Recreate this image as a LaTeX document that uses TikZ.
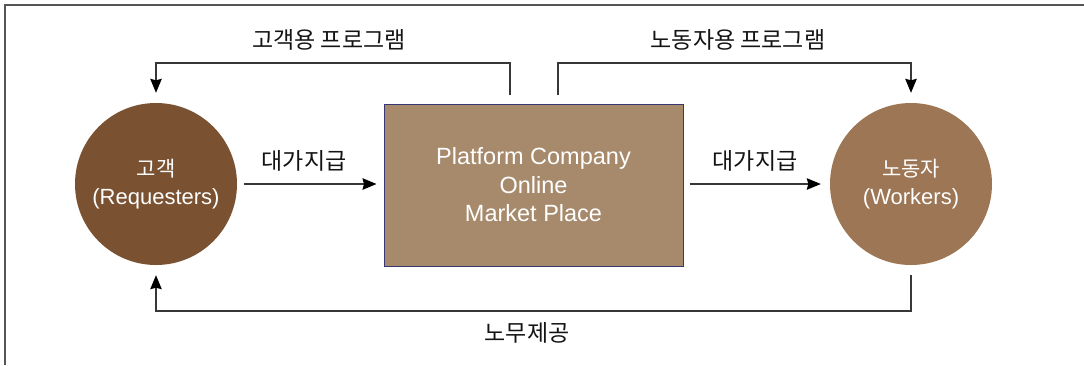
\documentclass[tikz,border=0pt]{standalone}
\usepackage{fontspec}
\setmainfont{Liberation Sans}
\newfontfamily\krf{Noto Sans CJK KR}
\usetikzlibrary{arrows.meta}
\definecolor{reqc}{RGB}{122,81,49}
\definecolor{wrkc}{RGB}{156,118,85}
\definecolor{platc}{RGB}{167,138,108}
\definecolor{platb}{RGB}{55,55,115}
\definecolor{linec}{RGB}{55,55,55}
\definecolor{framec}{RGB}{85,85,85}
\definecolor{txtc}{RGB}{20,20,20}
\tikzset{
  circ/.style={circle, inner sep=0pt, minimum size=162pt, text=white, align=center,
    font=\fontsize{22}{28}\selectfont},
  platbox/.style={rectangle, draw=platb, line width=1pt, fill=platc, inner sep=0pt,
    minimum width=299pt, minimum height=162pt, text=white, align=center,
    font=\fontsize{23.5}{28.5}\selectfont},
  conn/.style={draw=linec, line width=1.3pt, -{Stealth[length=14pt,width=11.5pt,inset=1.5pt,color=black]}},
  lbl/.style={inner sep=0pt, text=txtc, font=\krf\fontsize{23}{26}\selectfont},
  frame/.style={draw=framec, line width=1.5pt}
}
\begin{document}
\begin{tikzpicture}[x=1pt,y=-1pt]
\useasboundingbox (0,0) rectangle (1084,365);
\draw[frame] (5,365) -- (5,5) -- (1084,5);

\node[circ, fill=reqc] (req) at (156,184) {{\krf\fontsize{21}{28}\selectfont 고객}\\(Requesters)};
\node[circ, fill=wrkc] (wrk) at (911,184) {{\krf\fontsize{21}{28}\selectfont 노동자}\\(Workers)};
\node[platbox] (plat) at (533.5,185) {Platform Company\\Online\\Market Place};

\coordinate (tl) at (156,63);
\coordinate (tr) at (911,63);
\coordinate (bm) at (530,311);

\draw[conn, shorten <=9pt, shorten >=10pt] ([xshift=-23.5pt]plat.north) |- (tl) -- (req.north);
\draw[conn, shorten <=9pt, shorten >=10pt] ([xshift=24.5pt]plat.north) |- (tr) -- (wrk.north);
\draw[conn, shorten <=10pt, shorten >=10pt] (wrk.south) |- (bm) -| (req.south);
\draw[conn, shorten <=7pt, shorten >=7pt] (req.east) -- (req.east -| plat.west);
\draw[conn, shorten <=6pt, shorten >=9pt] (plat.east |- wrk.west) -- (wrk.west);

\node[lbl] (l1) at (329,40) {고객용 프로그램};
\node[lbl] (l2) at (738,40) {노동자용 프로그램};
\node[lbl] (l3) at (304,161) {대가지급};
\node[lbl] (l4) at (755,161) {대가지급};
\node[lbl] (l5) at (527,333) {노무제공};
\end{tikzpicture}
\end{document}
